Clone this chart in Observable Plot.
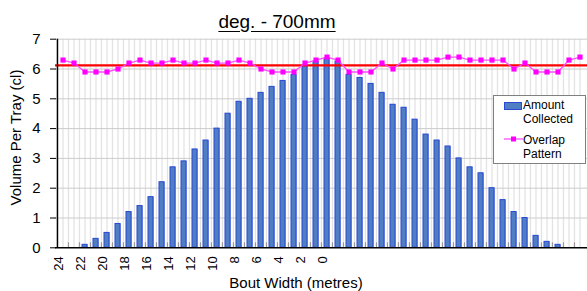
<!DOCTYPE html>
<html>
<head>
<meta charset="utf-8">
<script src="https://cdn.jsdelivr.net/npm/d3@7"></script>
<script src="https://cdn.jsdelivr.net/npm/@observablehq/plot@0.6"></script>
<style>
  body { margin: 0; background: #fff; }
  #wrap { position: relative; width: 587px; height: 291px; font-family: "Liberation Sans", Arial, sans-serif; color: #000; overflow: hidden; }
  #wrap svg { position: absolute; left: 0; top: 0; }
  .abs { position: absolute; white-space: nowrap; }
</style>
</head>
<body>
<div id="wrap"></div>
<script>
// ---- data ----
const chartTitle = "deg. - 700mm";
const yTitle = "Volume Per Tray (cl)";
const xTitle = "Bout Width (metres)";
const seriesNames = ["Amount Collected", "Overlap Pattern"];

// amount collected per tray slot (48 slots, left to right)
const amount = [0, 0, 0.1, 0.3, 0.5, 0.8, 1.2, 1.4, 1.7, 2.2, 2.7, 2.9, 3.3, 3.6, 4.0, 4.5, 4.9, 5.0, 5.2, 5.4,
  5.6, 5.8, 6.1, 6.25, 6.35, 6.25, 5.8, 5.7, 5.5, 5.2, 4.8, 4.7, 4.3, 3.8, 3.6, 3.4, 3.0, 2.7, 2.5, 2.0,
  1.6, 1.2, 1.0, 0.4, 0.2, 0.1, 0, 0];
// overlap pattern per slot
const overlap = [6.3, 6.2, 5.9, 5.9, 5.9, 6.0, 6.2, 6.3, 6.2, 6.2, 6.3, 6.2, 6.2, 6.3, 6.2, 6.2, 6.3, 6.2, 6.0, 5.9,
  5.9, 5.9, 6.2, 6.3, 6.4, 6.3, 5.9, 5.9, 5.9, 6.2, 6.0, 6.3, 6.3, 6.3, 6.3, 6.4, 6.4, 6.3, 6.3, 6.3,
  6.3, 6.0, 6.2, 5.9, 5.9, 5.9, 6.3, 6.4];
const meanLevel = 6.12;
const xTickLabels = ["24", "22", "20", "18", "16", "14", "12", "10", "8", "6", "4", "2", "0"];
const xTickSlots = [0, 2, 4, 6, 8, 10, 12, 14, 16, 18, 20, 22, 24];
const yTicks = [0, 1, 2, 3, 4, 5, 6, 7];

// ---- build tables ----
const slots = amount.map((_, i) => i);
const barData = amount.map((v, i) => ({slot: i, v})).filter(d => d.v > 0);
const lineData = overlap.map((v, i) => ({slot: i, v}));
const tickData = xTickLabels.map((t, k) => ({slot: xTickSlots[k], t}));

const W = 587, H = 291;
const mL = 55, mR = 0, mT = 38.7, mB = 43.7;
const step = (W - mL - mR) / slots.length;
const frameH = H - mT - mB;
const font = "Liberation Sans, Arial, sans-serif";

const chart = Plot.plot({
  width: W, height: H,
  marginLeft: mL, marginRight: mR, marginTop: mT, marginBottom: mB,
  style: {fontFamily: font, fontSize: "13px", background: "transparent", overflow: "visible"},
  x: {type: "band", domain: slots, paddingInner: 0.56, paddingOuter: 0.28, axis: null},
  y: {domain: [0, 7], axis: null},
  marks: [
    // vertical grid (slot centres and slot boundaries)
    Plot.ruleX(slots, {x: d => d, stroke: "#e3e3e3", strokeWidth: 1.3}),
    Plot.ruleX(slots.slice(1), {x: d => d, dx: -step / 2, stroke: "#e3e3e3", strokeWidth: 1.3}),
    // horizontal grid
    Plot.ruleY(yTicks.slice(1), {y: d => d, stroke: "#cccccc", strokeWidth: 1}),
    // inside ticks on category axis
    Plot.ruleX(slots.slice(1), {x: d => d, dx: -step / 2, stroke: "#999999", strokeWidth: 1.2, insetTop: frameH - 5}),
    // bars
    Plot.barY(barData, {x: "slot", y: "v", fill: "#a3adf7", dx: 1}),
    Plot.barY(barData, {x: "slot", y: "v", fill: "#4f7ec2", stroke: "#2a48d2", strokeWidth: 1}),
    // mean line
    Plot.ruleY([meanLevel], {stroke: "#ff0000", strokeWidth: 2.4}),
    // overlap pattern
    Plot.line(lineData, {x: "slot", y: "v", stroke: "#ff4dff", strokeWidth: 1.3}),
    Plot.dot(lineData, {x: "slot", y: "v", symbol: "square", r: 2.9, fill: "#ff00ff", stroke: "none"}),
    // axes lines
    Plot.ruleY([0], {stroke: "#000", strokeWidth: 1.5}),
    Plot.ruleX([slots[0]], {x: d => d, dx: -step / 2, stroke: "#000", strokeWidth: 1.5}),
    // y ticks & labels
    Plot.ruleY(yTicks, {y: d => d, stroke: "#000", strokeWidth: 1, insetLeft: -5, insetRight: W - mL - mR - 1}),
    Plot.text(yTicks, {y: d => d, text: d => String(d), frameAnchor: "left", dx: -15, textAnchor: "end", fontSize: 15, fill: "#000"}),
    // x tick labels
    Plot.text(tickData, {x: "slot", text: "t", frameAnchor: "bottom", rotate: -90, textAnchor: "end", dy: 8.5, fontSize: 13, fill: "#000"})
  ]
});

const wrap = document.getElementById("wrap");
wrap.appendChild(chart);

function addText(txt, css) {
  const d = document.createElement("div");
  d.className = "abs";
  d.textContent = txt;
  Object.assign(d.style, css);
  wrap.appendChild(d);
  return d;
}
// title
addText(chartTitle, {left: "177px", width: "200px", textAlign: "center", top: "12px", fontSize: "19px", lineHeight: "19px", textDecoration: "underline", textUnderlineOffset: "3px"});
// x title
addText(xTitle, {left: "196px", width: "200px", textAlign: "center", top: "275px", fontSize: "15px", lineHeight: "15px"});
// y title
addText(yTitle, {left: "-85px", width: "200px", textAlign: "center", top: "129.5px", fontSize: "15px", lineHeight: "15px", transform: "rotate(-90deg)", transformOrigin: "50% 50%"});

// legend
const lg = document.createElement("div");
lg.className = "abs";
Object.assign(lg.style, {left: "493px", top: "95px", width: "91px", height: "67px", border: "1px solid #808080", background: "#fff", fontSize: "12px", lineHeight: "14px"});
wrap.appendChild(lg);
const sw = document.createElement("div");
Object.assign(sw.style, {position: "absolute", left: "10px", top: "5.7px", width: "16px", height: "6px", background: "#4f7ec2", border: "1px solid #2a48d2"});
lg.appendChild(sw);
const n1 = seriesNames[0].split(" ");
const n2 = seriesNames[1].split(" ");
const t1 = document.createElement("div");
Object.assign(t1.style, {position: "absolute", left: "29px", top: "2px"});
t1.innerHTML = n1[0] + "<br>" + n1[1];
lg.appendChild(t1);
const t2 = document.createElement("div");
Object.assign(t2.style, {position: "absolute", left: "29px", top: "36.5px"});
t2.innerHTML = n2[0] + "<br>" + n2[1];
lg.appendChild(t2);
const ns = "http://www.w3.org/2000/svg";
const ls = document.createElementNS(ns, "svg");
ls.setAttribute("width", "20"); ls.setAttribute("height", "10");
Object.assign(ls.style, {position: "absolute", left: "10px", top: "38px"});
ls.innerHTML = '<line x1="0" x2="19" y1="5" y2="5" stroke="#ff4dff" stroke-width="1.3"/><rect x="7" y="2.5" width="5" height="5" fill="#ff00ff"/>';
lg.appendChild(ls);
</script>
</body>
</html>
